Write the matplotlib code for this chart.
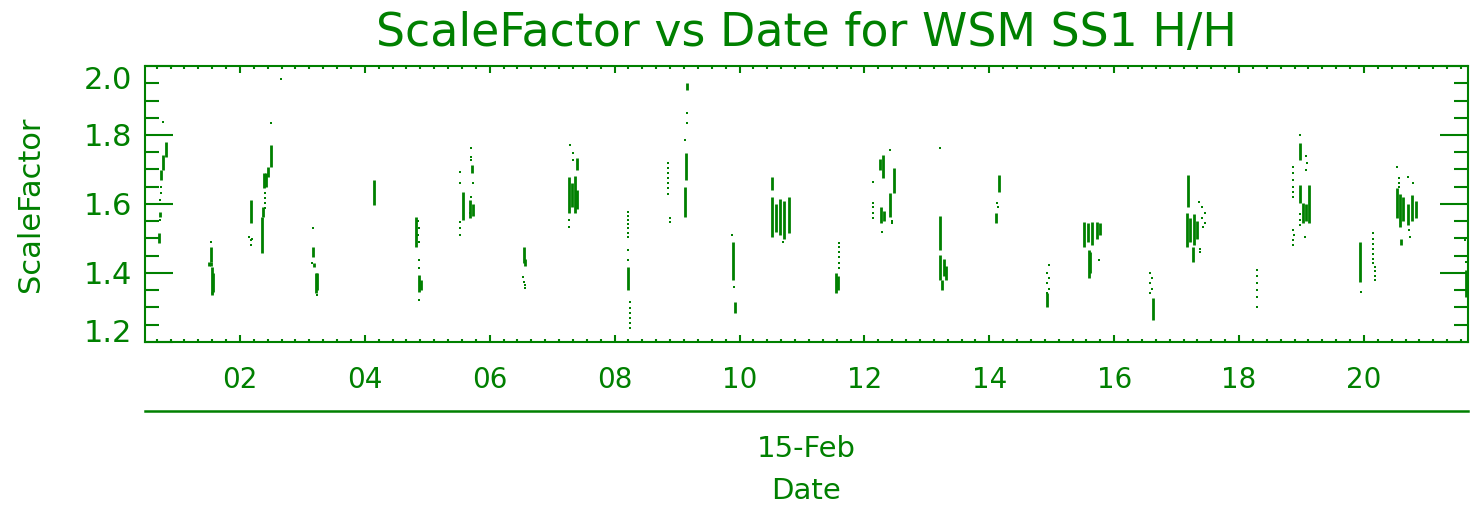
import matplotlib
matplotlib.use('Agg')
import matplotlib.pyplot as plt
from matplotlib.ticker import MultipleLocator, FuncFormatter

# scale factor samples, x = day of Feb 2015 (fractional)
# isolated samples
dot_day = [0.772, 0.73, 0.73, 0.72, 0.72,
           1.531,
           2.15, 2.17, 2.18, 2.20,
           2.49, 2.40, 2.40, 2.40, 2.40, 2.657,
           3.164, 3.15, 3.23,
           4.85, 4.86, 4.85, 4.86, 4.86, 4.86, 4.86,
           5.523, 5.523, 5.523, 5.523, 5.523, 5.695, 5.695, 5.695, 5.73, 5.70, 5.68,
           6.54, 6.55, 6.56, 6.57,
           7.285, 7.33, 7.34, 7.27, 7.27,
           8.22, 8.22, 8.22, 8.22, 8.22, 8.22, 8.22, 8.22, 8.22,
           8.246, 8.246, 8.246, 8.246, 8.246, 8.246,
           8.86, 8.86, 8.86, 8.86, 8.86, 8.86, 8.86, 8.89, 8.88,
           9.153, 9.153, 9.13,
           9.874, 9.91,
           10.70,
           11.59, 11.59, 11.59, 11.59, 11.59, 11.59,
           12.41, 12.14, 12.14, 12.14, 12.14, 12.14, 12.29, 12.44, 12.44,
           13.206,
           14.12, 14.14,
           14.96, 14.93, 14.95, 14.93, 14.95, 14.93,
           15.75,
           16.58, 16.60, 16.58, 16.60, 16.58,
           17.36, 17.40, 17.45, 17.40, 17.45, 17.42, 17.38, 17.38,
           18.29, 18.29, 18.29, 18.29, 18.29, 18.29,
           18.97, 19.07, 19.09, 19.08, 18.86, 18.86, 18.86, 18.86, 18.86, 18.86,
           18.97, 18.97, 18.97, 18.86, 18.88, 18.86, 18.87, 19.05,
           19.96, 20.15, 20.15, 20.15, 20.15, 20.15, 20.15, 20.15,
           20.17, 20.18, 20.17, 20.17,
           20.53, 20.56, 20.56, 20.56, 20.70, 20.78, 20.72, 20.74,
           21.62, 21.63]
dot_sf = [1.839, 1.650, 1.631, 1.612, 1.554,
          1.491,
          1.505, 1.495, 1.481, 1.500,
          1.834, 1.632, 1.617, 1.603, 1.588, 1.962,
          1.529, 1.430, 1.336,
          1.550, 1.530, 1.510, 1.490, 1.438, 1.414, 1.322,
          1.694, 1.660, 1.549, 1.530, 1.510, 1.761, 1.737, 1.728, 1.660, 1.620, 1.575,
          1.389, 1.375, 1.365, 1.356,
          1.771, 1.748, 1.728, 1.554, 1.534,
          1.578, 1.566, 1.554, 1.541, 1.529, 1.517, 1.505, 1.467, 1.438,
          1.317, 1.300, 1.285, 1.270, 1.255, 1.240,
          1.718, 1.705, 1.690, 1.675, 1.660, 1.645, 1.630, 1.559, 1.549,
          1.863, 1.834, 1.786,
          1.510, 1.358,
          1.491,
          1.487, 1.475, 1.460, 1.447, 1.430, 1.414,
          1.757, 1.665, 1.603, 1.590, 1.575, 1.559, 1.520, 1.550, 1.545,
          1.762,
          1.603, 1.591,
          1.423, 1.400, 1.385, 1.370, 1.355, 1.342,
          1.438,
          1.400, 1.385, 1.370, 1.355, 1.342,
          1.607, 1.590, 1.575, 1.560, 1.545, 1.534, 1.470, 1.460,
          1.409, 1.390, 1.370, 1.350, 1.330, 1.302,
          1.800, 1.740, 1.720, 1.700, 1.708, 1.690, 1.670, 1.650, 1.635, 1.621,
          1.570, 1.555, 1.540, 1.525, 1.510, 1.495, 1.481, 1.505,
          1.346, 1.516, 1.500, 1.485, 1.470, 1.455, 1.440, 1.428,
          1.418, 1.405, 1.392, 1.380,
          1.708, 1.674, 1.660, 1.650, 1.679, 1.660, 1.525, 1.505,
          1.496, 1.432]

# dense stretches of samples: day, lowest and highest value
run_day = [0.815, 0.772, 0.735, 0.72, 0.70,
           1.531, 1.50, 1.53, 1.55, 1.57, 1.545,
           2.176,
           2.496, 2.45, 2.38, 2.42, 2.37, 2.36,
           3.164, 3.18, 3.21, 3.23,
           4.15,
           4.82, 4.87, 4.90,
           5.567, 5.72, 5.69, 5.73,
           6.548, 6.56,
           7.40, 7.27, 7.32, 7.37, 7.40,
           8.22,
           9.153, 9.145, 9.12,
           9.89, 9.93,
           10.525, 10.52, 10.58, 10.65, 10.72, 10.79,
           11.55, 11.58,
           12.30, 12.25, 12.47, 12.41, 12.27, 12.32,
           13.21, 13.21, 13.27, 13.30, 13.24,
           14.155, 14.11,
           14.92,
           15.52, 15.58, 15.65, 15.72, 15.78, 15.59, 15.62,
           16.63,
           17.18, 17.17, 17.22, 17.28, 17.33, 17.26,
           18.97, 18.97, 19.12, 19.03, 19.07,
           19.94,
           20.53, 20.58, 20.63, 20.70, 20.77, 20.84, 20.60,
           21.64, 21.68, 21.72]
run_lo = [1.737, 1.699, 1.670, 1.563, 1.487,
          1.433, 1.419, 1.419, 1.341, 1.345, 1.336,
          1.545,
          1.708, 1.679, 1.646, 1.650, 1.563, 1.457,
          1.447, 1.418, 1.342, 1.350,
          1.597,
          1.476, 1.346, 1.350,
          1.554, 1.690, 1.559, 1.565,
          1.428, 1.420,
          1.699, 1.573, 1.590, 1.575, 1.585,
          1.351,
          1.930, 1.670, 1.563,
          1.380, 1.283,
          1.640, 1.505, 1.520, 1.510, 1.500, 1.515,
          1.342, 1.350,
          1.675, 1.700, 1.632, 1.563, 1.544, 1.550,
          1.467, 1.380, 1.390, 1.380, 1.351,
          1.636, 1.544,
          1.302,
          1.476, 1.490, 1.480, 1.500, 1.510, 1.386, 1.400,
          1.264,
          1.592, 1.476, 1.490, 1.480, 1.500, 1.433,
          1.728, 1.603, 1.545, 1.545, 1.550,
          1.375,
          1.560, 1.534, 1.550, 1.540, 1.550, 1.560, 1.481,
          1.330, 1.340, 1.350]
run_hi = [1.781, 1.742, 1.699, 1.578, 1.516,
          1.476, 1.433, 1.433, 1.418, 1.400, 1.345,
          1.612,
          1.771, 1.708, 1.690, 1.690, 1.592, 1.563,
          1.476, 1.430, 1.400, 1.400,
          1.670,
          1.563, 1.394, 1.380,
          1.636, 1.713, 1.612, 1.600,
          1.476, 1.440,
          1.733, 1.679, 1.660, 1.680, 1.640,
          1.418,
          1.950, 1.747, 1.650,
          1.491, 1.317,
          1.679, 1.621, 1.600, 1.615, 1.610, 1.620,
          1.400, 1.390,
          1.742, 1.730, 1.704, 1.632, 1.592, 1.580,
          1.565, 1.452, 1.440, 1.420, 1.380,
          1.684, 1.573,
          1.342,
          1.549, 1.545, 1.549, 1.549, 1.545, 1.467, 1.460,
          1.327,
          1.684, 1.573, 1.560, 1.570, 1.550, 1.476,
          1.776, 1.655, 1.655, 1.603, 1.600,
          1.491,
          1.646, 1.630, 1.620, 1.600, 1.625, 1.610, 1.500,
          1.409, 1.400, 1.390]

green = '#008000'
plt.rcParams['font.family'] = ['DejaVu Sans']

W, H = 1477, 518
fig = plt.figure(figsize=(W / 100, H / 100), dpi=100)
ax = fig.add_axes([145 / W, 1 - 342 / H, (1468 - 145) / W, (342 - 66) / H])

ax.vlines(run_day, run_lo, run_hi, colors=green, lw=2.0)
ax.scatter(dot_day, dot_sf, s=4.5, marker='s', c=green, lw=0)

ax.set_xlim(0.479, 21.667)
ax.set_ylim(1.2, 2.0)

ax.xaxis.set_major_locator(MultipleLocator(2))
ax.xaxis.set_minor_locator(MultipleLocator(2 / 9))
ax.xaxis.set_major_formatter(FuncFormatter(lambda v, p: f'{int(round(v)):02d}'))
ax.yaxis.set_major_locator(MultipleLocator(0.2))
ax.yaxis.set_minor_locator(MultipleLocator(0.05))
ax.yaxis.set_major_formatter(FuncFormatter(lambda v, p: f'{v:.1f}'))

ax.tick_params(which='both', direction='in', top=True, right=True,
               colors=green, width=1.5)
ax.tick_params(axis='x', which='major', length=5, pad=17, labelsize=20)
ax.tick_params(axis='x', which='minor', length=2.5)
ax.tick_params(axis='y', which='major', length=20, pad=9, labelsize=22)
ax.tick_params(axis='y', which='minor', length=10)
for s in ax.spines.values():
    s.set_color(green)
    s.set_linewidth(1.5)

# second level of the date axis
ax.plot([0, 1], [-0.25, -0.25], color=green, lw=1.8,
        transform=ax.transAxes, clip_on=False)
ax.text(0.5, -0.386, '15-Feb', color=green, fontsize=21,
        ha='center', va='center', transform=ax.transAxes)
ax.text(0.5, -0.54, 'Date', color=green, fontsize=21,
        ha='center', va='center', transform=ax.transAxes)

fig.text(31 / W, 1 - 204 / H, 'ScaleFactor', rotation=90, color=green,
         fontsize=22, ha='center', va='center')
fig.text(806 / W, 1 - 34 / H, 'ScaleFactor vs Date for WSM SS1 H/H',
         color=green, fontsize=33, ha='center', va='center')

# keep the end labels inside the frame height
fig.canvas.draw()
for t in ax.yaxis.get_major_ticks():
    if abs(t.get_loc() - 1.2) < 1e-6:
        t.label1.set_va('baseline')
    elif abs(t.get_loc() - 2.0) < 1e-6:
        t.label1.set_va('top')

fig.savefig('out.png', dpi=100)
